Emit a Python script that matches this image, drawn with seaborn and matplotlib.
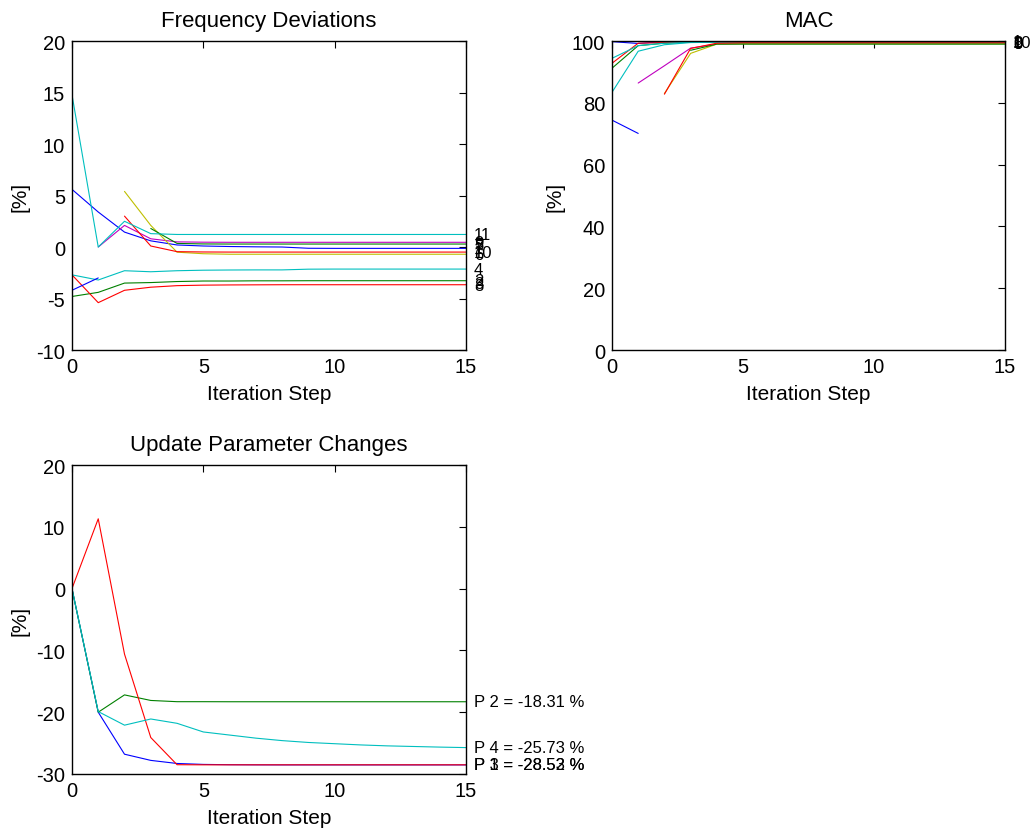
import numpy as np
import pandas as pd
import matplotlib
matplotlib.use('Agg')
import matplotlib.pyplot as plt
import seaborn as sns

nan = np.nan
steps = list(range(16))

# MATLAB default colour order, one colour per mode / parameter
mode_names = ['1', '2', '3', '4', '5', '6', '7', '8', '9', '10', '11']
mode_colors = ['#0000ff', '#008000', '#ff0000', '#00bfbf', '#bf00bf', '#bfbf00',
               '#000000', '#0000ff', '#008000', '#ff0000', '#00bfbf']

# frequency deviations [%] per mode (nan = mode not paired in that step)
freq_dev = {
    '1':  [5.6, 3.4, 1.45, 0.6, 0.2, 0.1, 0.05, 0.02, 0.0, -0.12, -0.13, -0.13, -0.13, -0.13, -0.13, -0.13],
    '2':  [-4.8, -4.4, -3.5, -3.45, -3.35, -3.3, -3.3, -3.28, -3.28, -3.27, -3.27, -3.27, -3.27, -3.27, -3.27, -3.27],
    '3':  [-2.7, -5.4, -4.2, -3.9, -3.75, -3.7, -3.68, -3.67, -3.66, -3.66, -3.66, -3.66, -3.66, -3.66, -3.66, -3.66],
    '4':  [-2.7, -3.2, -2.3, -2.4, -2.3, -2.25, -2.23, -2.22, -2.22, -2.15, -2.14, -2.14, -2.14, -2.14, -2.14, -2.14],
    '5':  [nan, 0.0, 2.1, 0.8, 0.5, 0.47, 0.46, 0.46, 0.46, 0.46, 0.46, 0.46, 0.46, 0.46, 0.46, 0.46],
    '6':  [nan, nan, 5.4, 2.1, -0.5, -0.65, -0.7, -0.7, -0.7, -0.7, -0.7, -0.7, -0.7, -0.7, -0.7, -0.7],
    '8':  [-4.2, -3.0, nan, nan, nan, nan, nan, nan, nan, nan, nan, nan, nan, nan, nan, nan],
    '9':  [nan, nan, nan, 1.8, 0.35, 0.3, 0.29, 0.29, 0.29, 0.29, 0.29, 0.29, 0.29, 0.29, 0.29, 0.29],
    '10': [nan, nan, 3.0, 0.1, -0.45, -0.48, -0.49, -0.49, -0.49, -0.49, -0.49, -0.49, -0.49, -0.49, -0.49, -0.49],
    '11': [14.8, 0.0, 2.5, 1.3, 1.22, 1.22, 1.22, 1.22, 1.22, 1.22, 1.22, 1.22, 1.22, 1.22, 1.22, 1.22],
}
# end-of-line mode labels (as they sit at the right edge)
freq_label_text = ['11', '9', '5', '7', '1', '10', '6', '4', '2', '3', '8']
freq_label_pos = [1.22, 0.46, 0.29, 0.1, -0.13, -0.49, -0.7, -2.14, -3.27, -3.55, -3.75]

# MAC values [%] per mode
mac = {
    '1':  [99.8, 99.2, 99.8, 99.9, 99.9, 99.9, 99.9, 99.9, 99.9, 99.9, 99.9, 99.9, 99.9, 99.9, 99.9, 99.9],
    '2':  [91.2, 98.5, 99.3, 99.6, 99.7, 99.7, 99.7, 99.7, 99.7, 99.7, 99.7, 99.7, 99.7, 99.7, 99.7, 99.7],
    '3':  [92.8, 99.3, 99.5, 99.6, 99.7, 99.7, 99.7, 99.7, 99.7, 99.7, 99.7, 99.7, 99.7, 99.7, 99.7, 99.7],
    '4':  [83.4, 96.7, 98.8, 99.5, 99.6, 99.6, 99.6, 99.6, 99.6, 99.6, 99.6, 99.6, 99.6, 99.6, 99.6, 99.6],
    '5':  [nan, 86.4, 92.0, 97.7, 99.0, 99.2, 99.2, 99.2, 99.2, 99.2, 99.2, 99.2, 99.2, 99.2, 99.2, 99.2],
    '6':  [nan, nan, 83.0, 96.0, 99.0, 99.1, 99.1, 99.1, 99.1, 99.1, 99.1, 99.1, 99.1, 99.1, 99.1, 99.1],
    '8':  [74.4, 70.1, nan, nan, nan, nan, nan, nan, nan, nan, nan, nan, nan, nan, nan, nan],
    '9':  [nan, nan, nan, 97.0, 99.0, 99.0, 99.0, 99.0, 99.0, 99.0, 99.0, 99.0, 99.0, 99.0, 99.0, 99.0],
    '10': [nan, nan, 82.8, 97.6, 99.3, 99.5, 99.5, 99.5, 99.5, 99.5, 99.5, 99.5, 99.5, 99.5, 99.5, 99.5],
    '11': [94.4, 98.5, 99.3, 99.6, 99.8, 99.8, 99.8, 99.8, 99.8, 99.8, 99.8, 99.8, 99.8, 99.8, 99.8, 99.8],
}
mac_label_text = ['1', '8', '9', '10', '0']
mac_label_pos = [99.9, 99.6, 99.3, 99.5, 99.1]

# update parameter changes [%]
param_names = ['P 1', 'P 2', 'P 3', 'P 4']
param_colors = ['#0000ff', '#008000', '#ff0000', '#00bfbf']
param_change = {
    'P 1': [0, -20.0, -26.8, -27.8, -28.3, -28.45, -28.5, -28.52, -28.53, -28.53, -28.53, -28.53, -28.53, -28.53, -28.53, -28.53],
    'P 2': [0, -20.0, -17.2, -18.1, -18.3, -18.3, -18.31, -18.31, -18.31, -18.31, -18.31, -18.31, -18.31, -18.31, -18.31, -18.31],
    'P 3': [0, 11.3, -10.6, -24.1, -28.5, -28.52, -28.52, -28.52, -28.52, -28.52, -28.52, -28.52, -28.52, -28.52, -28.52, -28.52],
    'P 4': [0, -19.9, -22.1, -21.1, -21.8, -23.2, -23.7, -24.2, -24.6, -24.9, -25.1, -25.3, -25.45, -25.55, -25.65, -25.73],
}


def to_long(series):
    rows = []
    for name, vals in series.items():
        for s, v in zip(steps, vals):
            if not np.isnan(v):
                rows.append({'step': s, 'value': v, 'name': name})
    return pd.DataFrame(rows)


def style_axes(ax, ylim, yticks, title):
    ax.set_xlim(0, 15)
    ax.set_ylim(*ylim)
    ax.set_xticks([0, 5, 10, 15])
    ax.set_yticks(yticks)
    ax.set_title(title, fontsize=16, pad=11)
    ax.set_xlabel('Iteration Step', fontsize=15, labelpad=6)
    ax.set_ylabel('[%]', fontsize=15, labelpad=5)
    ax.tick_params(direction='in', top=True, right=True, length=5,
                   width=0.8, labelsize=14.5, pad=5, colors='black')
    for sp in ax.spines.values():
        sp.set_visible(True)
        sp.set_color('black')
        sp.set_linewidth(1.0)


sns.set_theme(style='white')
plt.rcParams['font.family'] = ['Liberation Sans', 'DejaVu Sans']
plt.rcParams['axes.unicode_minus'] = False
plt.rcParams['text.color'] = 'black'
plt.rcParams['axes.labelcolor'] = 'black'

fig = plt.figure(figsize=(10.31, 8.37), dpi=100)
ax_f = fig.add_axes([0.0698, 0.5806, 0.3822, 0.3692])
ax_m = fig.add_axes([0.5936, 0.5806, 0.3812, 0.3692])
ax_p = fig.add_axes([0.0698, 0.0741, 0.3822, 0.3691])

pal = dict(zip(mode_names, mode_colors))

# frequency deviations
df_f = to_long(freq_dev)
sns.lineplot(data=df_f, x='step', y='value', hue='name', palette=pal,
             hue_order=list(freq_dev.keys()), estimator=None, legend=False,
             linewidth=0.8, ax=ax_f)
for txt, y in zip(freq_label_text, freq_label_pos):
    ax_f.text(15.3, y, txt, fontsize=12, va='center', ha='left', clip_on=False)
style_axes(ax_f, (-10, 20), [-10, -5, 0, 5, 10, 15, 20], 'Frequency Deviations')

# MAC
df_m = to_long(mac)
sns.lineplot(data=df_m, x='step', y='value', hue='name', palette=pal,
             hue_order=list(mac.keys()), estimator=None, legend=False,
             linewidth=0.8, ax=ax_m)
for txt, y in zip(mac_label_text, mac_label_pos):
    ax_m.text(15.3, y, txt, fontsize=12, va='center', ha='left', clip_on=False)
style_axes(ax_m, (0, 100), [0, 20, 40, 60, 80, 100], 'MAC')

# parameter changes
df_p = to_long(param_change)
sns.lineplot(data=df_p, x='step', y='value', hue='name',
             palette=dict(zip(param_names, param_colors)),
             hue_order=param_names, estimator=None, legend=False,
             linewidth=0.8, ax=ax_p)
for name in param_names:
    last = param_change[name][-1]
    ax_p.text(15.3, last, f'{name} = {last:.2f} %', fontsize=12,
              va='center', ha='left', clip_on=False)
style_axes(ax_p, (-30, 20), [-30, -20, -10, 0, 10, 20], 'Update Parameter Changes')

fig.savefig('out.png', dpi=100)
